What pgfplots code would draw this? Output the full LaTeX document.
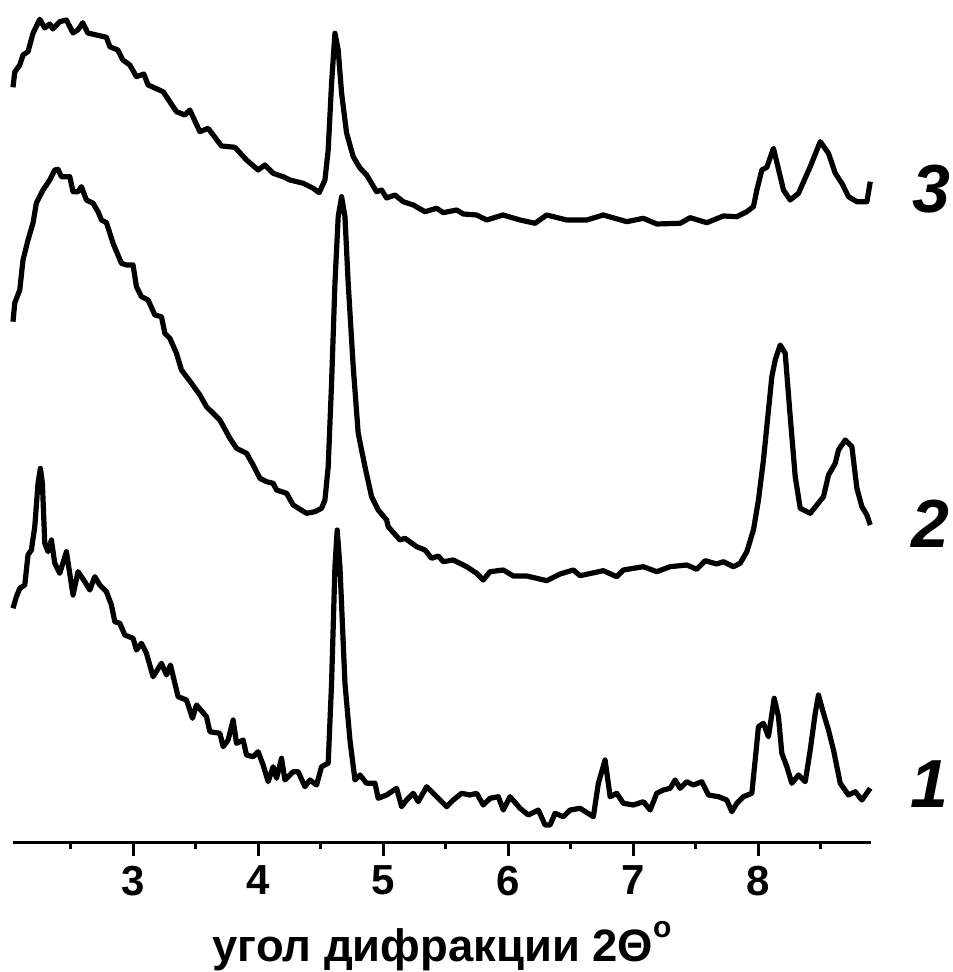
\documentclass[border=0pt]{standalone}
\usepackage{fontspec}
\setmainfont{Liberation Sans}
\usepackage{pgfplots}
\pgfplotsset{compat=1.18}
\begin{document}
\begin{tikzpicture}
\begin{axis}[
  scale only axis,
  width=429pt, height=421pt,
  xmin=2.04, xmax=8.90,
  ymin=0, ymax=842,
  axis x line=bottom,
  axis y line=none,
  x axis line style={-, line width=1.5pt},
  xtick={3,4,5,6,7,8},
  minor xtick={2.5,3.5,4.5,5.5,6.5,7.5,8.5},
  tick align=outside,
  major tick length=7pt,
  minor tick length=3.5pt,
  tick style={line width=1.5pt, black},
  /pgf/number format/assume math mode=true,
  xticklabel style={font=\fontsize{21}{24}\selectfont\bfseries, yshift=-1.5pt},
  xlabel={угол дифракции 2Θ\raisebox{12pt}{\fontsize{15}{15}\selectfont o}},
  every axis x label/.style={at={(axis description cs:0.5,0)}, anchor=base, yshift=-59.5pt, font=\fontsize{22.7}{26}\selectfont\bfseries},
  clip=false,
]
% curve 3
\addplot[black, line width=2.6pt, line join=round] table {
2.040 754.7
2.054 770
2.094 777
2.120 787
2.160 790.3
2.200 808.7
2.254 822.7
2.294 814
2.334 818
2.358 813
2.414 820.3
2.467 822
2.520 809
2.558 812
2.598 819.3
2.638 809
2.707 807
2.787 804.7
2.814 795.3
2.878 792
2.918 782
2.974 777
3.027 765.3
3.086 768
3.120 757
3.240 750.3
3.347 730.3
3.414 727
3.454 732
3.534 710.3
3.600 713.7
3.707 696
3.814 694.7
3.907 682
4.000 672
4.054 677
4.120 668.7
4.200 665.3
4.254 662
4.360 658.7
4.440 653.7
4.488 649.3
4.534 662
4.560 692
4.587 758.7
4.614 808.7
4.640 792
4.667 749
4.707 709
4.760 685.3
4.814 674
4.867 667
4.947 650.3
4.987 652
5.027 644
5.094 647
5.160 640.3
5.240 637
5.334 630.3
5.427 633.7
5.480 629.3
5.587 632
5.640 628
5.747 627
5.827 622
5.958 627
6.094 622
6.214 618.7
6.307 627
6.467 622
6.627 622
6.760 627
6.947 620.3
7.080 623.7
7.187 618
7.374 618.7
7.454 624.3
7.587 619.3
7.720 626
7.827 625.3
7.907 630.3
7.960 635.3
7.987 652
8.027 672
8.067 674.7
8.120 693.7
8.200 652
8.254 642
8.320 648.7
8.414 675.3
8.494 700.3
8.560 688.7
8.614 668.7
8.667 658.7
8.720 645.3
8.787 640.3
8.867 640.3
8.894 660.3
};
% curve 2
\addplot[black, line width=2.6pt, line join=round] table {
2.040 520.3
2.054 539
2.094 552
2.120 582
2.160 602
2.200 619
2.227 639
2.280 652
2.334 662
2.374 672
2.400 672.7
2.427 665.3
2.494 665.3
2.520 650.3
2.560 650.3
2.587 655.3
2.627 642
2.680 638.7
2.720 630.3
2.747 622
2.787 619.3
2.840 598.7
2.907 578.7
2.947 577
3.000 577
3.027 555.3
3.067 545.3
3.120 542
3.174 527
3.227 525.3
3.254 508.7
3.294 503.7
3.347 488.7
3.387 472
3.467 458.7
3.534 447
3.587 435.3
3.694 422
3.774 403.7
3.827 393.7
3.907 388.7
3.960 377
4.014 363.7
4.067 360.3
4.120 358.7
4.147 352
4.227 348.7
4.280 337
4.387 328.7
4.454 330.3
4.507 333.7
4.534 342
4.560 375.3
4.587 458.7
4.614 558.7
4.640 625.3
4.667 645.3
4.694 625.3
4.720 558.7
4.760 475.3
4.800 408.7
4.854 375.3
4.907 345.3
4.960 332
5.027 322
5.040 315.3
5.134 302
5.174 303.7
5.267 295.3
5.334 292
5.387 283.7
5.440 286
5.480 280.3
5.560 282
5.667 275.3
5.747 268.7
5.800 262
5.854 270.3
5.960 272
6.040 266
6.147 266
6.227 263.7
6.307 261.3
6.414 268
6.520 272
6.574 266.3
6.760 271.3
6.867 265.3
6.920 272
7.080 275.3
7.187 270.3
7.294 275.3
7.427 277
7.507 272.7
7.574 281.3
7.667 278
7.720 280.3
7.800 275.3
7.854 278.7
7.907 290.3
7.960 312
8.000 342
8.040 382
8.107 465.3
8.134 482
8.174 497
8.214 488.7
8.254 425.3
8.294 365.3
8.334 333.7
8.414 328.7
8.467 337
8.520 345.3
8.560 367
8.614 378.7
8.640 392
8.694 402
8.747 395.3
8.787 353.7
8.827 335.3
8.867 327
8.894 317
};
% curve 1
\addplot[black, line width=2.6pt, line join=round] table {
2.040 233.7
2.067 245.3
2.094 253.7
2.134 257
2.160 287
2.187 292
2.214 315.3
2.240 358.7
2.259 373.7
2.275 358.7
2.294 298.7
2.320 290.3
2.347 302
2.374 278.7
2.414 268.7
2.467 290.3
2.520 247
2.560 270.3
2.614 260.3
2.654 252
2.694 265.3
2.734 257
2.787 250.3
2.827 237
2.854 220.3
2.894 218.7
2.934 207
3.000 203.7
3.027 192
3.067 198.7
3.107 188.7
3.160 165.3
3.227 178.7
3.267 167
3.299 177
3.360 145.3
3.427 142
3.475 123.7
3.507 137
3.587 125.3
3.614 110.3
3.694 108.7
3.720 95.3
3.760 102
3.800 122
3.827 98.7
3.880 102
3.907 87
3.960 85.3
4.000 90.3
4.040 77
4.080 60.3
4.120 75.3
4.147 63.7
4.187 83.7
4.214 62
4.280 70.3
4.320 70.3
4.374 55.3
4.414 62
4.467 57
4.507 75.3
4.560 78.7
4.587 158.7
4.614 275.3
4.632 312
4.654 275.3
4.694 158.7
4.734 102
4.774 62
4.814 67
4.867 58.7
4.934 58.7
4.960 43.7
5.027 47
5.107 53.7
5.147 35.3
5.187 42
5.240 48.7
5.280 40.3
5.347 55.3
5.400 48.7
5.507 35.3
5.560 42
5.627 48.7
5.694 47
5.747 48.7
5.800 37
5.854 43.7
5.920 45.3
5.960 32
6.014 45.3
6.094 33.7
6.160 27
6.240 32
6.294 17
6.334 17
6.374 28.7
6.440 25.3
6.494 32
6.574 33.7
6.680 25.3
6.720 58.7
6.774 82
6.814 45.3
6.867 48.7
6.920 38.7
7.000 37
7.080 40.3
7.134 32
7.187 48.7
7.240 52
7.294 53.7
7.334 62
7.374 53.7
7.427 60.3
7.480 57
7.547 60.3
7.600 47
7.680 45.3
7.747 42
7.787 30.3
7.827 38.7
7.880 45.3
7.947 48.7
7.974 82
8.000 115.3
8.040 118.7
8.080 105.3
8.126 143.7
8.160 125.3
8.187 88.7
8.227 75.3
8.267 58.7
8.320 67
8.374 60.3
8.414 92
8.454 128.7
8.480 147
8.520 128.7
8.560 112
8.600 92
8.654 58.7
8.720 47
8.774 50.3
8.827 42
8.894 53.7
};
\node[font=\fontsize{34}{36}\selectfont\bfseries\itshape] at (axis cs:9.382,653) {3};
\node[font=\fontsize{34}{36}\selectfont\bfseries\itshape] at (axis cs:9.374,318) {2};
\node[font=\fontsize{34}{36}\selectfont\bfseries\itshape] at (axis cs:9.366,58) {1};
\end{axis}
\pgfresetboundingbox
\path[use as bounding box] (-6.5pt,-65pt) rectangle (469.5pt,421pt);
\end{tikzpicture}
\end{document}
